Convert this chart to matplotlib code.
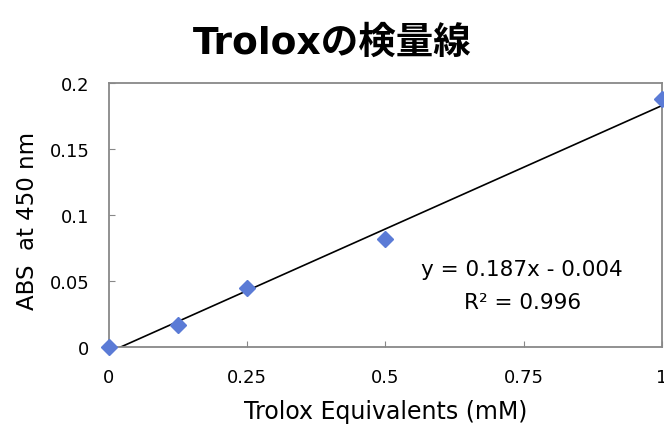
import numpy as np
import matplotlib.pyplot as plt

plt.rcParams['font.family'] = ['DejaVu Sans', 'Noto Sans CJK JP']

# calibration data
conc = [0, 0.125, 0.25, 0.5, 1.0]
absorb = [0.0, 0.0165, 0.045, 0.082, 0.188]
slope, intercept = 0.187, -0.004
xticks = [0, 0.25, 0.5, 0.75, 1]
xticklabels = ['0', '0.25', '0.5', '0.75', '1']
yticks = [0, 0.05, 0.1, 0.15, 0.2]
yticklabels = ['0', '0.05', '0.1', '0.15', '0.2']

fig = plt.figure(figsize=(6.64, 4.27), dpi=100)
ax = fig.add_axes([0.164, 0.185, 0.833, 0.618])

fit_x = np.array([0, 1.0])
ax.plot(fit_x, slope * fit_x + intercept, color='black', lw=1.2, zorder=2)
ax.plot(conc, absorb, 'D', color='#5b7bd6', ms=8, mec='#5b7bd6',
        clip_on=False, zorder=3)

ax.set_xlim(0, 1)
ax.set_ylim(0, 0.2)
ax.set_xticks(xticks)
ax.set_xticklabels(xticklabels)
ax.set_yticks(yticks)
ax.set_yticklabels(yticklabels)
ax.tick_params(direction='in', length=4, color='#888888', labelsize=13)
ax.tick_params(axis='x', pad=15)
ax.tick_params(axis='y', pad=14)
for s in ax.spines.values():
    s.set_color('#888888')
    s.set_linewidth(1.3)

ax.set_xlabel('Trolox Equivalents (mM)', fontsize=17, va='baseline')
ax.xaxis.set_label_coords(0.5, -0.27)
ax.set_ylabel('ABS  at 450 nm', fontsize=16.5, va='center')
ax.yaxis.set_label_coords(-0.148, 0.48)

ax.text(0.747, 0.059, 'y = 0.187x - 0.004', ha='center', va='center',
        fontsize=15.5)
ax.text(0.747, 0.034, 'R² = 0.996', ha='center', va='center', fontsize=15.5)

fig.text(0.5, 0.875, 'Troloxの検量線', ha='center', va='baseline',
         fontsize=27, fontweight='bold')

fig.savefig('out.png', dpi=100)
